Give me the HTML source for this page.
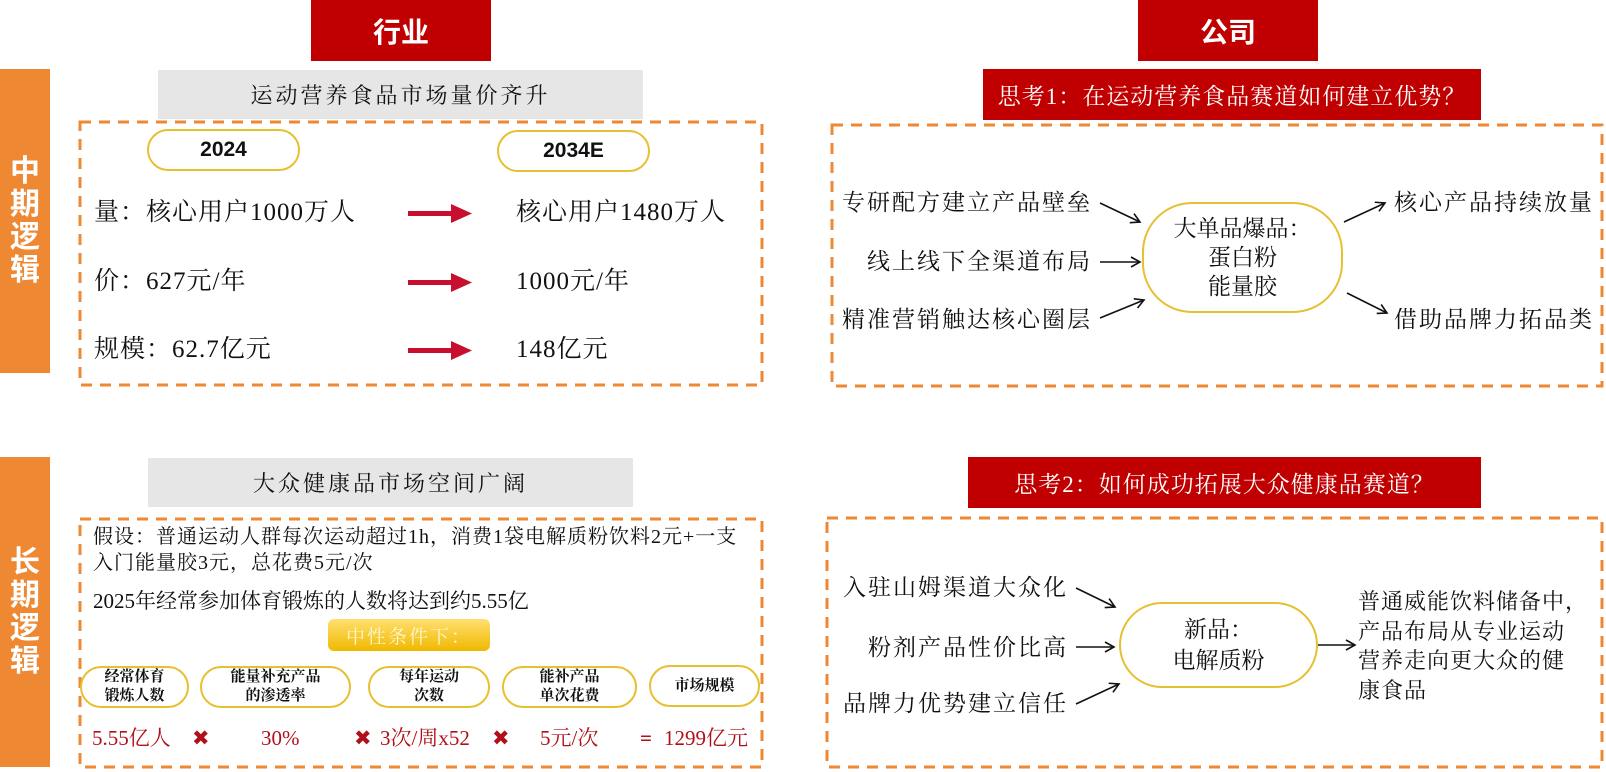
<!DOCTYPE html>
<html><head><meta charset="utf-8"><style>
body{margin:0;width:1606px;height:772px;background:#fff;position:relative;overflow:hidden;font-family:"Liberation Serif","Noto Serif CJK SC",serif;color:#111}
.a{position:absolute}
.red{background:#c00000;color:#fff}
.hdr{font-family:"Liberation Sans","Noto Sans CJK SC",sans-serif;font-weight:bold;font-size:28px;display:flex;align-items:center;justify-content:center}
.side{background:#ee8833;color:#fff;font-family:"Liberation Sans","Noto Sans CJK SC",sans-serif;font-weight:bold;font-size:30px;line-height:33px;width:50px;display:flex;align-items:center;justify-content:center;text-align:center}
.gray{background:#e6e6e6;font-size:22px;display:flex;align-items:center;justify-content:center;letter-spacing:3px}
.t{font-size:25px;white-space:nowrap;letter-spacing:1px;line-height:30px}
.r{font-size:23px;white-space:nowrap;letter-spacing:2px;line-height:30px}
.pill{border:2px solid #e6c030;border-radius:22px;display:flex;align-items:center;justify-content:center;text-align:center;box-sizing:border-box;background:#fff}
.sp{font-size:15px;line-height:19px;font-weight:bold}
.v{color:#b0101a;font-size:21px;white-space:nowrap;line-height:26px}
</style></head><body>
<svg class="a" style="left:0;top:0" width="1606" height="772">
<defs>
<marker id="k" markerWidth="12" markerHeight="12" refX="10" refY="6" orient="auto" markerUnits="userSpaceOnUse"><path d="M1,1 L10,6 L1,11" fill="none" stroke="#111" stroke-width="1.6"/></marker>
</defs>
<g fill="none" stroke="#ee8833" stroke-width="3" stroke-dasharray="11,8">
<rect x="80" y="122" width="682" height="263"/>
<rect x="80" y="519" width="682" height="248"/>
<rect x="832" y="125" width="770" height="261"/>
<rect x="827" y="518" width="775" height="249"/>
</g>
<g fill="#c8102e">
<rect x="408" y="211" width="45" height="5"/><polygon points="451,204 472,213.5 451,223"/>
<rect x="408" y="280" width="45" height="5"/><polygon points="451,273 472,282.5 451,292"/>
<rect x="408" y="348" width="45" height="5"/><polygon points="451,341 472,350.5 451,360"/>
</g>
<g stroke="#111" stroke-width="1.6" marker-end="url(#k)">
<line x1="1100" y1="203" x2="1140" y2="222"/>
<line x1="1100" y1="262" x2="1140" y2="262"/>
<line x1="1100" y1="318" x2="1144" y2="300"/>
<line x1="1344" y1="222" x2="1385" y2="203"/>
<line x1="1347" y1="293" x2="1387" y2="313"/>
<line x1="1076" y1="588" x2="1115" y2="607"/>
<line x1="1076" y1="647" x2="1114" y2="647"/>
<line x1="1076" y1="704" x2="1119" y2="684"/>
<line x1="1318" y1="645" x2="1355" y2="645"/>
</g>
</svg>

<div class="a red hdr" style="left:311px;top:0;width:180px;height:61px">行业</div>
<div class="a red hdr" style="left:1138px;top:0;width:180px;height:61px">公司</div>
<div class="a side" style="left:0;top:69px;height:304px">中<br>期<br>逻<br>辑</div>
<div class="a side" style="left:0;top:457px;height:310px">长<br>期<br>逻<br>辑</div>

<div class="a gray" style="left:158px;top:70px;width:485px;height:49px">运动营养食品市场量价齐升</div>
<div class="a pill" style="left:147px;top:129px;width:153px;height:42px;font-family:'Liberation Sans',sans-serif;font-weight:bold;font-size:21px">2024</div>
<div class="a pill" style="left:497px;top:130px;width:153px;height:42px;font-family:'Liberation Sans',sans-serif;font-weight:bold;font-size:21px">2034E</div>
<div class="a t" style="left:94px;top:198px">量：核心用户1000万人</div>
<div class="a t" style="left:516px;top:198px">核心用户1480万人</div>
<div class="a t" style="left:94px;top:267px">价：627元/年</div>
<div class="a t" style="left:516px;top:267px">1000元/年</div>
<div class="a t" style="left:94px;top:335px">规模：62.7亿元</div>
<div class="a t" style="left:516px;top:335px">148亿元</div>

<div class="a gray" style="left:148px;top:458px;width:485px;height:49px">大众健康品市场空间广阔</div>
<div class="a" style="left:93px;top:524px;font-size:20px;line-height:26px;white-space:nowrap;letter-spacing:1px">假设：普通运动人群每次运动超过1h，消费1袋电解质粉饮料2元+一支<br>入门能量胶3元，总花费5元/次</div>
<div class="a" style="left:93px;top:585px;font-size:21px;white-space:nowrap">2025年经常参加体育锻炼的人数将达到约5.55亿</div>
<div class="a" style="left:328px;top:619px;width:162px;height:32px;border-radius:6px;background:linear-gradient(#ffe070,#f0b800);color:#fff6cc;font-size:19px;display:flex;align-items:center;justify-content:center;letter-spacing:2px">中性条件下：</div>
<div class="a pill sp" style="left:80px;top:666px;width:109px;height:42px">经常体育<br>锻炼人数</div>
<div class="a pill sp" style="left:200px;top:666px;width:151px;height:42px">能量补充产品<br>的渗透率</div>
<div class="a pill sp" style="left:368px;top:666px;width:122px;height:42px">每年运动<br>次数</div>
<div class="a pill sp" style="left:502px;top:666px;width:135px;height:42px">能补产品<br>单次花费</div>
<div class="a pill sp" style="left:649px;top:665px;width:111px;height:42px">市场规模</div>
<div class="a v" style="left:92px;top:725px">5.55亿人</div>
<div class="a v" style="left:192px;top:725px">✖</div>
<div class="a v" style="left:261px;top:725px">30%</div>
<div class="a v" style="left:354px;top:725px">✖</div>
<div class="a v" style="left:380px;top:725px">3次/周x52</div>
<div class="a v" style="left:492px;top:725px">✖</div>
<div class="a v" style="left:540px;top:725px">5元/次</div>
<div class="a v" style="left:640px;top:725px;font-weight:bold">=</div>
<div class="a v" style="left:664px;top:725px">1299亿元</div>

<div class="a red" style="left:983px;top:69px;width:498px;height:51px;font-size:23px;display:flex;align-items:center;justify-content:center;letter-spacing:1px">思考1：在运动营养食品赛道如何建立优势？</div>
<div class="a r" style="left:842px;top:188px;width:250px;text-align:right">专研配方建立产品壁垒</div>
<div class="a r" style="left:842px;top:247px;width:250px;text-align:right">线上线下全渠道布局</div>
<div class="a r" style="left:842px;top:305px;width:250px;text-align:right">精准营销触达核心圈层</div>
<div class="a pill" style="left:1142px;top:202px;width:201px;height:111px;border-radius:50px;font-size:23px;line-height:29px">大单品爆品：<br>蛋白粉<br>能量胶</div>
<div class="a r" style="left:1394px;top:188px">核心产品持续放量</div>
<div class="a r" style="left:1394px;top:305px">借助品牌力拓品类</div>

<div class="a red" style="left:968px;top:457px;width:513px;height:51px;font-size:23px;display:flex;align-items:center;justify-content:center;letter-spacing:1px">思考2：如何成功拓展大众健康品赛道？</div>
<div class="a r" style="left:830px;top:573px;width:238px;text-align:right">入驻山姆渠道大众化</div>
<div class="a r" style="left:830px;top:633px;width:238px;text-align:right">粉剂产品性价比高</div>
<div class="a r" style="left:830px;top:689px;width:238px;text-align:right">品牌力优势建立信任</div>
<div class="a pill" style="left:1119px;top:602px;width:199px;height:86px;border-radius:44px;font-size:23px;line-height:31px">新品：<br>电解质粉</div>
<div class="a" style="left:1358px;top:587px;font-size:22px;line-height:29.5px;letter-spacing:1px;white-space:nowrap">普通威能饮料储备中，<br>产品布局从专业运动<br>营养走向更大众的健<br>康食品</div>
</body></html>
